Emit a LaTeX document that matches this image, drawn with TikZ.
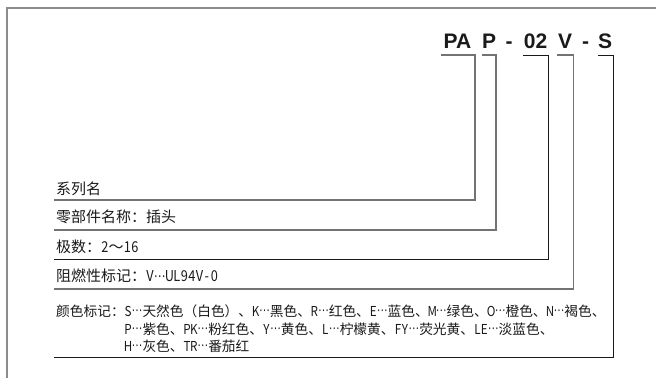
\documentclass[tikz,border=0pt]{standalone}
\usepackage{fontspec}
\usepackage{graphicx}
\setmainfont{Liberation Sans}
\newfontfamily\cjk{Noto Sans CJK SC}
\def\hsloop#1{\ifx\relax#1\else\makebox[.5em]{\scalebox{.85}[1]{#1}}\expandafter\hsloop\fi}
\newcommand\hs[1]{\hsloop#1\relax}
\newcommand\el{\makebox[.8em]{\raisebox{.3em}{\scalebox{.7}[1]{…}}}}
\definecolor{txt}{HTML}{1A1A1A}
\definecolor{frm}{HTML}{8C8C8C}
\tikzset{
  code/.style={anchor=base, inner sep=0pt, text=txt, font=\fontsize{21}{21}\selectfont\bfseries},
  lab/.style={anchor=base west, inner sep=0pt, text=txt, font=\cjk\fontsize{15}{15}\selectfont},
  col/.style={anchor=base west, inner sep=0pt, text=txt, font=\cjk\fontsize{13.7}{13.7}\selectfont},
  lgray/.style={draw=black!55, line width=1.3pt},
  ldark/.style={draw=black!90, line width=0.9pt},
  frame/.style={draw=frm, line width=2pt}
}
\begin{document}
\begin{tikzpicture}[x=1pt, y=-1pt]
\useasboundingbox (0,0) rectangle (656,378);
% frame
\coordinate (f0) at (6.7,378);
\coordinate (f1) at (6.7,7.7);
\coordinate (f2) at (656,7.7);
\draw[frame] (f0) -- (f1) -- (f2);
% code tokens
\node[code] (tPA) at (457.5,48) {PA};
\node[code] (tP)  at (489,48) {P};
\node[code] (td1) at (509,48) {-};
\node[code] (t02) at (535.5,48) {02};
\node[code] (tV)  at (565,48) {V};
\node[code] (td2) at (585.5,48) {-};
\node[code] (tS)  at (605,48) {S};
% labels
\node[lab] (n1) at (56,194.7) {系列名};
\node[lab] (n2) at (56,222.7) {零部件名称：插头};
\node[lab] (n3) at (56,252.2) {极数：\hs{2}～\hs{16}};
\node[lab] (n4) at (56,281.7) {阻燃性标记：\hs{V}\el\hs{UL94V-0}};
\node[col] (c1) at (56,316) {颜色标记：\hs{S}\el 天然色（白色）、\hs{K}\el 黑色、\hs{R}\el 红色、\hs{E}\el 蓝色、\hs{M}\el 绿色、\hs{O}\el 橙色、\hs{N}\el 褐色、};
\node[col] (c2) at (124.5,334) {\hs{P}\el 紫色、\hs{PK}\el 粉红色、\hs{Y}\el 黄色、\hs{L}\el 柠檬黄、\hs{FY}\el 荧光黄、\hs{LE}\el 淡蓝色、};
\node[col] (c3) at (124.5,351) {\hs{H}\el 灰色、\hs{TR}\el 番茄红};
% bracket coordinates
\coordinate (a1) at (441,55);   \coordinate (k1) at (475,55);   \coordinate (e1) at (54,200);
\coordinate (a2) at (482.3,55); \coordinate (k2) at (496,55);   \coordinate (e2) at (54,230);
\coordinate (a3) at (523.3,55); \coordinate (k3) at (548.3,55); \coordinate (e3) at (54,259.3);
\coordinate (a4) at (556.7,55); \coordinate (k4) at (573.3,55); \coordinate (e4) at (54,289);
\coordinate (a5) at (598.3,55); \coordinate (k5) at (613.3,55); \coordinate (e5) at (54,357.5);
\draw[lgray] (a1) -- (k1) |- (e1);
\draw[lgray] (a2) -- (k2) |- (e2);
\draw[ldark] (a3) -- (k3) |- (e3);
\draw[lgray] (a4) -- (k4) |- (e4);
\draw[ldark] (a5) -- (k5) |- (e5);
\end{tikzpicture}
\end{document}
